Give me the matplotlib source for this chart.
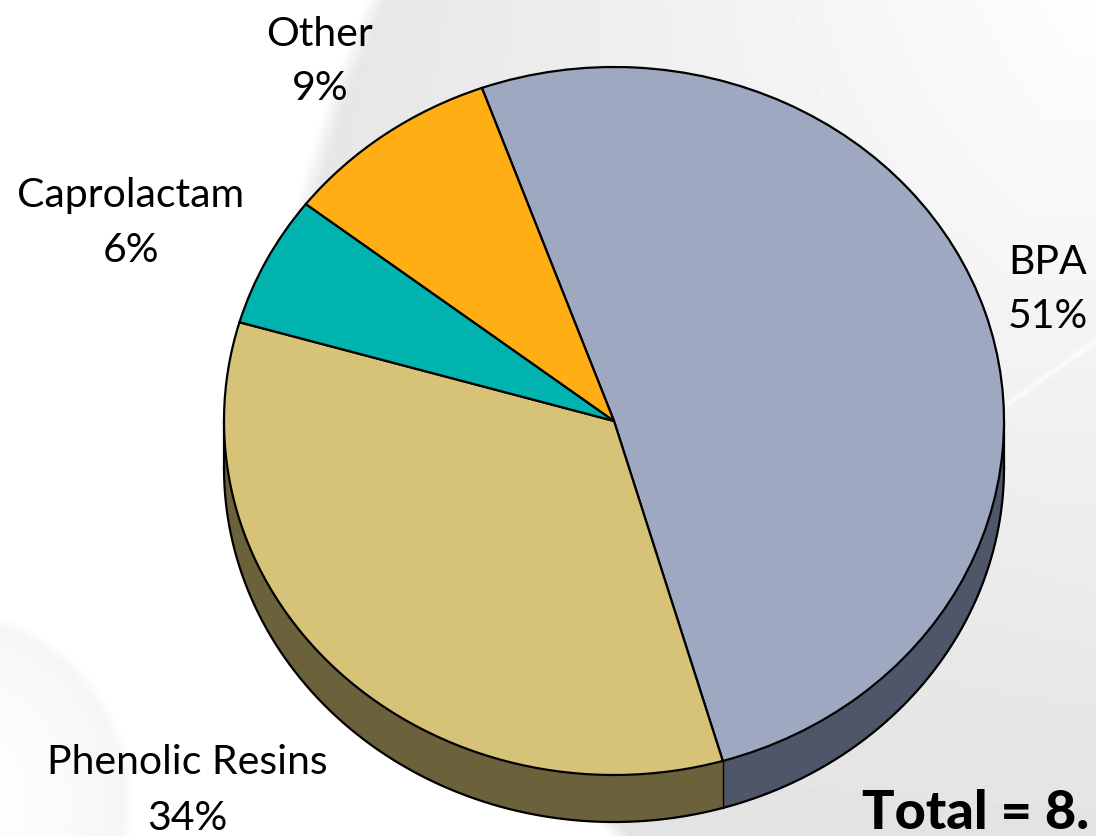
import numpy as np
import matplotlib
matplotlib.use("Agg")
import matplotlib.pyplot as plt

W, H = 1096, 836

labels = ["BPA", "Phenolic Resins", "Caprolactam", "Other"]
shares = [51, 34, 6, 9]
face_colors = ["#9ea8c0", "#d6c377", "#00b3ae", "#ffae13"]
side_colors = ["#50566a", "#6b613b", "#005a57", "#80570a"]
label_x = [1048, 187, 131, 320]
label_y = [262, 763, 195, 34]

# pie geometry in pixels
cx, cy, rx, ry = 614, 421, 390, 354
depth = 47 / ry
start = 109.8

plt.rcParams["font.family"] = ["Lato", "DejaVu Sans"]
fig = plt.figure(figsize=(W / 100, H / 100), dpi=100)

# background: white on the left, grey swoosh on the right
yy, xx = np.mgrid[0:H, 0:W]
edge = np.interp(yy, [0, 100, 200, 350, 500, 650, 836], [375, 335, 305, 290, 320, 420, 620])
t = np.clip((xx - edge) / 720, 0, 1)
grey = (0.905 + 0.09 * t) * (1 - yy / H) + 0.892 * yy / H
mask = np.clip((xx - edge) / 22 + 0.5, 0, 1)
bg = 1 - (1 - grey) * mask
# pale sphere bottom left
dist = np.hypot(xx + 60, yy - 800)
sphere = np.clip((195 - dist) / 12, 0, 1) * (0.035 * np.clip(dist / 195, 0, 1) ** 2 + 0.005)
bg = bg - sphere * (1 - mask)
# light streak right of the pie
streak = np.abs((yy - 405) + (xx - 1005) * 65 / 91) / 1.23
bg = bg + (1 - bg) * 0.6 * np.exp(-(streak / 3) ** 2) * (xx > 960)

ax_bg = fig.add_axes([0, 0, 1, 1])
ax_bg.imshow(bg, cmap="gray", vmin=0, vmax=1, aspect="auto", interpolation="bilinear")
ax_bg.axis("off")

ax = fig.add_axes([0, 0, 1, 1])
ax.patch.set_alpha(0)

# side wall, only the part facing the viewer
fracs = np.cumsum([0] + shares) / sum(shares)
for i in range(len(shares)):
    a0 = start - 360 * fracs[i]
    a1 = start - 360 * fracs[i + 1]
    th = np.radians(np.linspace(a1, a0, 300))
    th = th[np.sin(th) < 0]
    if len(th) == 0:
        continue
    ax.fill_between(np.cos(th), np.sin(th), np.sin(th) - depth, color=side_colors[i], lw=0, zorder=1)

th = np.radians(np.linspace(180, 360, 400))
ax.plot(np.cos(th), np.sin(th) - depth, color="black", lw=1.6, zorder=2)
ax.plot([-1, -1], [0, -depth], color="black", lw=1.6, zorder=2)
ax.plot([1, 1], [0, -depth], color="black", lw=1.6, zorder=2)
bx = np.cos(np.radians(start - 360 * fracs[1]))
by = np.sin(np.radians(start - 360 * fracs[1]))
ax.plot([bx, bx], [by, by - depth], color="black", lw=1.0, zorder=2)

wedges, _ = ax.pie(shares, colors=face_colors, startangle=start, counterclock=False, radius=1,
                   wedgeprops={"edgecolor": "black", "linewidth": 1.6, "zorder": 3})
ax.set_aspect("auto")
ax.set_xlim(-cx / rx, (W - cx) / rx)
ax.set_ylim(-(H - cy) / ry, cy / ry)
ax.axis("off")

for name, val, x, y in zip(labels, shares, label_x, label_y):
    fig.text(x / W, 1 - y / H, name, ha="center", va="center", fontsize=29.5, color="black")
    fig.text(x / W, 1 - (y + 55) / H, f"{val}%", ha="center", va="center", fontsize=29.5, color="black")

fig.text(862 / W, 1 - 829 / H, "Total = 8.", ha="left", va="baseline", fontsize=39,
         fontweight="black", color="black")

fig.savefig("out.png", dpi=100)
